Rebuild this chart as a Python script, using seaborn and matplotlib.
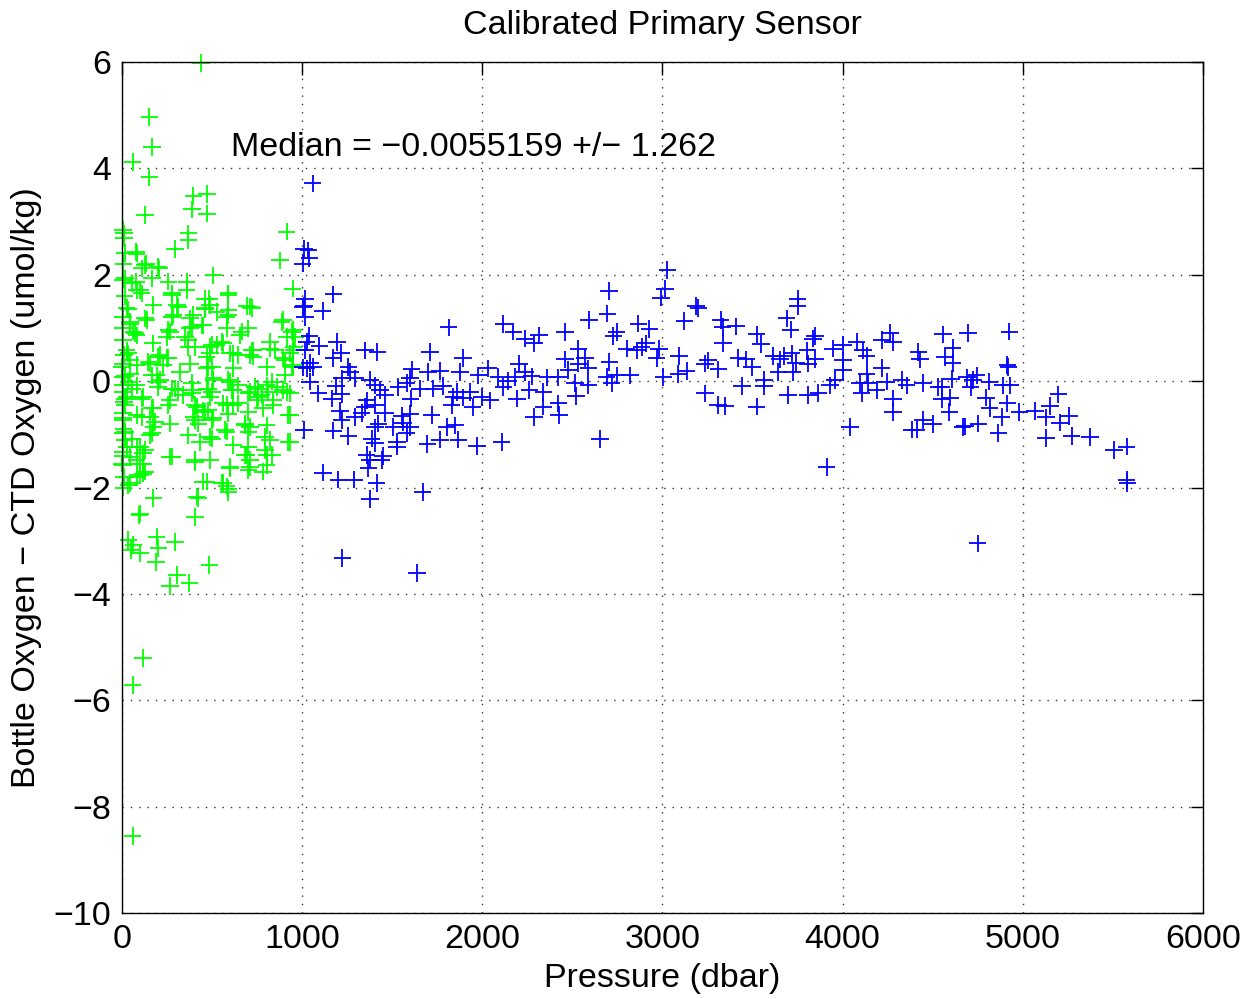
import numpy as np
import pandas as pd
import matplotlib
matplotlib.use("Agg")
import matplotlib.pyplot as plt
import seaborn as sns

# shallow bottles (< 1000 dbar), green
green_p = [437, 152, 165, 59, 152, 396, 473, 387, 473, 128, 7, 10, 914, 368, 368, 294, 17, 78,
           877, 133, 109, 207, 507, 7, 78, 165, 257, 359, 359, 100, 947, 276, 485, 590, 174, 26,
           313, 692, 461, 895, 128, 276, 377, 590, 44, 63, 442, 701, 942, 368, 170, 525, 655, 960,
           488, 710, 137, 396, 525, 266, 387, 581, 664, 7, 81, 350, 368, 498, 562, 729, 821, 951,
           35, 211, 257, 488, 618, 710, 895, 7, 81, 155, 229, 377, 479, 618, 803, 942, 44, 192,
           322, 507, 599, 387, 831, 7, 81, 211, 276, 313, 396, 479, 618, 710, 775, 932, 26, 109,
           266, 340, 488, 562, 646, 747, 840, 895, 17, 165, 414, 461, 618, 784, 5, 81, 155, 396,
           507, 932, 7, 266, 424, 683, 710, 174, 7, 155, 368, 488, 581, 794, 821, 932, 81, 433,
           618, 701, 118, 5, 44, 692, 803, 276, 100, 405, 488, 710, 784, 5, 118, 599, 81, 451,
           562, 590, 35, 174, 424, 100, 405, 35, 192, 294,
           96, 63, 202, 100, 48, 189, 485, 304, 266, 374, 115, 59, 59,
           81, 128, 201, 17, 54, 81, 109, 276, 461, 304, 35, 461, 285, 44, 451, 257, 377, 72, 5,
           248, 405, 26, 201, 248, 44, 0, 146, 470, 2, 35, 165, 201,
           590, 720, 590, 581, 886, 951, 914, 553, 821, 488, 720, 951, 599, 646, 729, 849, 932,
           470, 498, 951, 905, 507, 590, 738, 803, 905, 859, 646,
           54, 201, 294, 387, 470, 17, 118, 257, 405, 451, 174, 7, 109, 183, 405, 17, 165, 54,
           26, 100, 128, 266, 405, 81, 118, 0, 128, 100, 44, 414,
           498, 609, 701, 757, 812, 914, 581, 757, 840, 479, 590, 701, 923, 498, 683, 803, 572,
           701, 498, 923, 794, 683, 831, 710, 599, 803, 701, 470, 553, 581, 590,
           12, 8, 14, 5, 10, 15, 6, 12, 9, 14, 4, 11, 8]
green_d = [5.98, 4.97, 4.40, 4.12, 3.83, 3.48, 3.52, 3.23, 3.15, 3.12, 2.84, 2.78, 2.81, 2.78, 2.65, 2.48, 2.41, 2.43,
           2.27, 2.21, 2.12, 2.12, 1.99, 1.91, 1.87, 1.93, 1.87, 1.87, 1.71, 1.71, 1.74, 1.62, 1.55, 1.62, 1.43, 1.37,
           1.40, 1.41, 1.37, 1.15, 1.18, 1.21, 1.18, 1.24, 1.08, 0.93, 1.05, 0.99, 0.93, 0.77, 0.71, 0.68, 0.86, 0.83,
           1.43, 1.40, 1.15, 1.24, 1.30, 0.93, 1.02, 0.99, 0.93, 0.77, 0.86, 0.83, 0.64, 0.68, 0.71, 0.58, 0.61, 0.64,
           0.52, 0.49, 0.43, 0.52, 0.52, 0.49, 0.43, 0.33, 0.30, 0.33, 0.30, 0.33, 0.27, 0.24, 0.27, 0.27, 0.14, 0.11,
           0.17, 0.02, -0.01, -0.04, -0.01, -0.08, -0.08, 0.02, -0.14, -0.17, -0.17, -0.14, -0.17, -0.20, -0.26, -0.23, -0.29, -0.33,
           -0.36, -0.26, -0.30, -0.42, -0.42, -0.36, -0.36, -0.17, -0.45, -0.51, -0.48, -0.58, -0.45, -0.51, -0.60, -0.64, -0.67, -0.67,
           -0.70, -0.64, -0.73, -0.80, -0.80, -0.80, -0.86, -0.86, -0.98, -1.02, -1.02, -1.05, -0.95, -1.05, -1.11, -1.14, -1.23, -1.14,
           -1.20, -1.23, -1.36, -1.33, -1.42, -1.39, -1.39, -1.42, -1.55, -1.52, -1.48, -1.61, -1.70, -1.58, -1.74, -1.64, -1.80, -1.89,
           -1.92, -2.02, -1.95, -2.20, -2.20, -2.49, -2.55, -2.99, -2.93, -3.02,
           -2.52, -3.08, -3.14, -3.24, -3.18, -3.40, -3.46, -3.65, -3.85, -3.80, -5.21, -5.71, -8.55,
           2.40, 2.18, 2.15, 1.93, 1.84, 1.71, 1.65, 1.65, 1.55, 1.43, 1.35, 1.35, 1.24, 1.11, 1.05, 0.96, 0.99, 0.90, 1.00,
           0.83, 0.64, 0.58, 0.46, 0.43, 0.39, 0.27, 0.36, 0.24, 0.08, -0.01, 0.11, -0.01,
           1.65, 1.37, 1.33, 1.21, 1.11, 0.96, 0.83, 0.74, 0.74, 0.64, 0.58, 0.58, 0.52, 0.49, 0.46, 0.58, 0.52,
           0.46, 0.27, 0.30, 0.39, 0.05, 0.02, -0.11, -0.08, 0.11, -0.11, -0.08,
           -0.14, -0.11, -0.14, -0.23, -0.14, -0.33, -0.30, -0.45, -0.45, -0.55, -0.51, -0.70, -0.67, -0.77, -0.73, -0.95, -0.98, -1.08,
           -1.23, -1.23, -1.30, -1.42, -1.48, -1.48, -1.55, -1.55, -1.70, -1.77, -1.92, -2.17,
           -0.20, -0.17, -0.23, -0.14, -0.20, -0.20, -0.45, -0.30, -0.45, -0.55, -0.61, -0.58, -0.64, -0.73, -0.83, -0.83, -0.92,
           -0.95, -1.08, -1.14, -1.30, -1.39, -1.39, -1.48, -1.61, -1.58, -1.67, -1.89, -1.92, -1.98, -2.08,
           2.70, 2.20, 1.60, 1.20, 0.50, 0.10, -0.20, -0.40, -0.90, -1.10, -1.40, -1.80, -2.00]

# deep bottles (>= 1000 dbar), blue
blue_p = [1058, 1010, 1034, 1040, 1003, 1173, 1016, 1010, 1114, 1016, 1813, 2117, 1040, 1025, 1095, 1192,
          1214, 1349, 1417, 1709, 1894, 1173, 1256, 1043, 1062, 1025, 1608, 1700, 1765, 1876, 2033, 1978,
          2089, 1265, 1219, 1293, 1043, 1376, 1188, 1404, 1432, 1534, 1580, 1598, 1654, 1728, 1783, 1857,
          1932, 2117, 1090, 1164, 1219, 1460, 1602, 1839, 1894, 1997, 2043, 1358, 1830, 1946, 1404, 1349,
          1210, 1330, 1460, 1293, 1552, 1598, 1719, 1219, 1423, 1561, 1506, 1598, 1404, 1802, 1848, 1010,
          1173, 1580, 1256, 1386, 1765, 1867, 1525, 1404, 1695, 1969, 2107, 1525, 1358, 1450, 1376, 1441,
          1367, 1117, 1201, 1288, 1413, 1669, 1376, 1223, 1636, 1005, 1016, 1005,
          3027, 3014, 2992, 2703, 3186, 3199, 2694, 2592, 2866, 3121, 2172, 2927, 2745, 2459, 2237, 2316,
          2727, 2289, 2911, 2884, 2801, 2857, 2982, 2967, 2533, 3091, 2459, 2570, 2533, 2705, 2205, 3254,
          3236, 2589, 2478, 2237, 3134, 3088, 2181, 2274, 2361, 2422, 2745, 2820, 2690, 3005, 2144, 2514,
          2589, 2718, 2261, 2339, 3236, 2520, 2191, 2422, 2339, 2427, 2287, 2653, 3308,
          3750, 3750, 3689, 3711, 3323, 3334, 3408, 3522, 3547, 3337, 3846, 3837, 4263, 4216, 4281, 4077,
          4003, 3948, 4114, 4133, 4420, 4429, 3804, 3717, 3615, 3674, 3421, 3463, 3652, 3741, 3846, 3809,
          4003, 3497, 3310, 3643, 3722, 4003, 4216, 4133, 4327, 3564, 3958, 4096, 4142, 4447, 4531, 3440,
          3564, 3930, 4244, 4355, 4188, 4105, 3865, 3809, 3698, 4281, 3347, 3522, 4281, 4041, 4447, 4503,
          4383, 4410, 3911,
          4558, 4697, 4925, 4610, 4568, 4610, 4914, 4920, 4605, 4691, 4743, 4724, 4814, 4549, 4710, 4891,
          4928, 5197, 4596, 4549, 4797, 4914, 5151, 4816, 4981, 5068, 4592, 5128, 5258, 4882, 5206, 4666,
          4753, 4679, 4864, 5128, 5271, 5372, 5507, 5576, 5576, 5580, 4749]
blue_d = [3.72, 2.48, 2.46, 2.31, 2.21, 1.63, 1.55, 1.41, 1.32, 1.21, 1.01, 1.07, 0.85, 0.74, 0.66, 0.74,
          0.53, 0.58, 0.55, 0.55, 0.43, 0.43, 0.27, 0.34, 0.27, 0.24, 0.22, 0.17, 0.19, 0.17, 0.24, 0.11,
          0.08, 0.17, 0.05, 0.05, -0.01, 0.02, -0.09, -0.08, -0.17, -0.11, -0.04, 0.05, -0.14, -0.14, -0.09, -0.20,
          -0.20, -0.11, -0.23, -0.33, -0.24, -0.26, -0.33, -0.30, -0.31, -0.30, -0.36, -0.36, -0.45, -0.49, -0.45, -0.49,
          -0.56, -0.60, -0.60, -0.67, -0.66, -0.62, -0.64, -0.73, -0.80, -0.78, -0.86, -0.86, -0.87, -0.86, -0.83, -0.92,
          -0.93, -0.98, -1.03, -1.08, -1.10, -1.10, -1.14, -1.17, -1.18, -1.22, -1.14, -1.23, -1.39, -1.41, -1.48, -1.48,
          -1.64, -1.72, -1.85, -1.85, -1.91, -2.08, -2.22, -3.33, -3.61, 1.39, 0.58, 0.26,
          2.09, 1.74, 1.57, 1.70, 1.41, 1.38, 1.27, 1.15, 1.08, 1.13, 0.93, 0.98, 0.92, 0.92, 0.80, 0.86,
          0.85, 0.71, 0.71, 0.64, 0.61, 0.58, 0.61, 0.43, 0.60, 0.47, 0.41, 0.43, 0.33, 0.36, 0.33, 0.39,
          0.33, 0.24, 0.21, 0.17, 0.19, 0.13, 0.08, 0.09, 0.07, 0.07, 0.11, 0.11, 0.08, 0.08, 0.00, -0.03,
          -0.08, -0.04, -0.17, -0.20, -0.23, -0.28, -0.33, -0.42, -0.48, -0.64, -0.67, -1.09, -0.45,
          1.55, 1.41, 1.18, 0.97, 1.15, 1.02, 1.03, 0.88, 0.70, 0.72, 0.85, 0.80, 0.90, 0.77, 0.74, 0.74,
          0.68, 0.61, 0.58, 0.47, 0.55, 0.41, 0.58, 0.52, 0.47, 0.47, 0.43, 0.41, 0.41, 0.34, 0.41, 0.33,
          0.39, 0.27, 0.22, 0.17, 0.17, 0.21, 0.25, 0.14, 0.02, 0.02, 0.02, -0.03, -0.04, -0.04, -0.11, -0.09,
          -0.09, -0.08, -0.01, -0.08, -0.17, -0.22, -0.22, -0.26, -0.26, -0.33, -0.47, -0.48, -0.58, -0.86, -0.73, -0.81,
          -0.91, -0.91, -1.61,
          0.88, 0.90, 0.93, 0.63, 0.45, 0.34, 0.30, 0.27, 0.04, 0.07, 0.11, 0.02, -0.01, -0.11, -0.11, -0.08,
          -0.08, -0.25, -0.31, -0.34, -0.31, -0.42, -0.47, -0.51, -0.58, -0.56, -0.58, -0.68, -0.66, -0.67, -0.78, -0.86,
          -0.80, -0.85, -0.98, -1.07, -1.03, -1.05, -1.30, -1.23, -1.86, -1.91, -3.05]

df = pd.DataFrame({
    'pressure': green_p + blue_p,
    'diff': green_d + blue_d,
    'group': ['shallow'] * len(green_p) + ['deep'] * len(blue_p),
})

sns.set_style("white")
plt.rcParams['font.family'] = ['Liberation Sans', 'DejaVu Sans']
plt.rcParams['text.color'] = 'black'
plt.rcParams['axes.labelcolor'] = 'black'
plt.rcParams['xtick.color'] = 'black'
plt.rcParams['ytick.color'] = 'black'

fig = plt.figure(figsize=(12.54, 9.99), dpi=100)
ax = fig.add_axes([0.0973, 0.0861, 0.862, 0.8518])

sns.scatterplot(data=df, x='pressure', y='diff', hue='group',
                palette={'shallow': '#00ff00', 'deep': '#0000ff'},
                marker='+', s=160, linewidth=1.3, legend=False, ax=ax, clip_on=False)

ax.set_xlim(0, 6000)
ax.set_ylim(-10, 6)
ax.set_xticks(range(0, 6001, 1000))
ax.set_yticks(range(-10, 7, 2))
ax.grid(True, linestyle=(0, (1, 5)), color='#333333', linewidth=1.0)
ax.tick_params(direction='in', length=9, width=1, labelsize=24.5, top=True, right=True, pad=8)
for sp in ax.spines.values():
    sp.set_linewidth(1.0)
    sp.set_color('black')

ax.set_title('Calibrated Primary Sensor', fontsize=24.5, pad=20)
ax.set_xlabel('Pressure (dbar)', fontsize=24.5, labelpad=6)
ax.set_ylabel('Bottle Oxygen \u2212 CTD Oxygen (umol/kg)', fontsize=24.5, labelpad=8)
ax.text(605, 4.4, 'Median = \u22120.0055159 +/\u2212 1.262', fontsize=24.5, va='center')

plt.savefig('out.png', dpi=100)
